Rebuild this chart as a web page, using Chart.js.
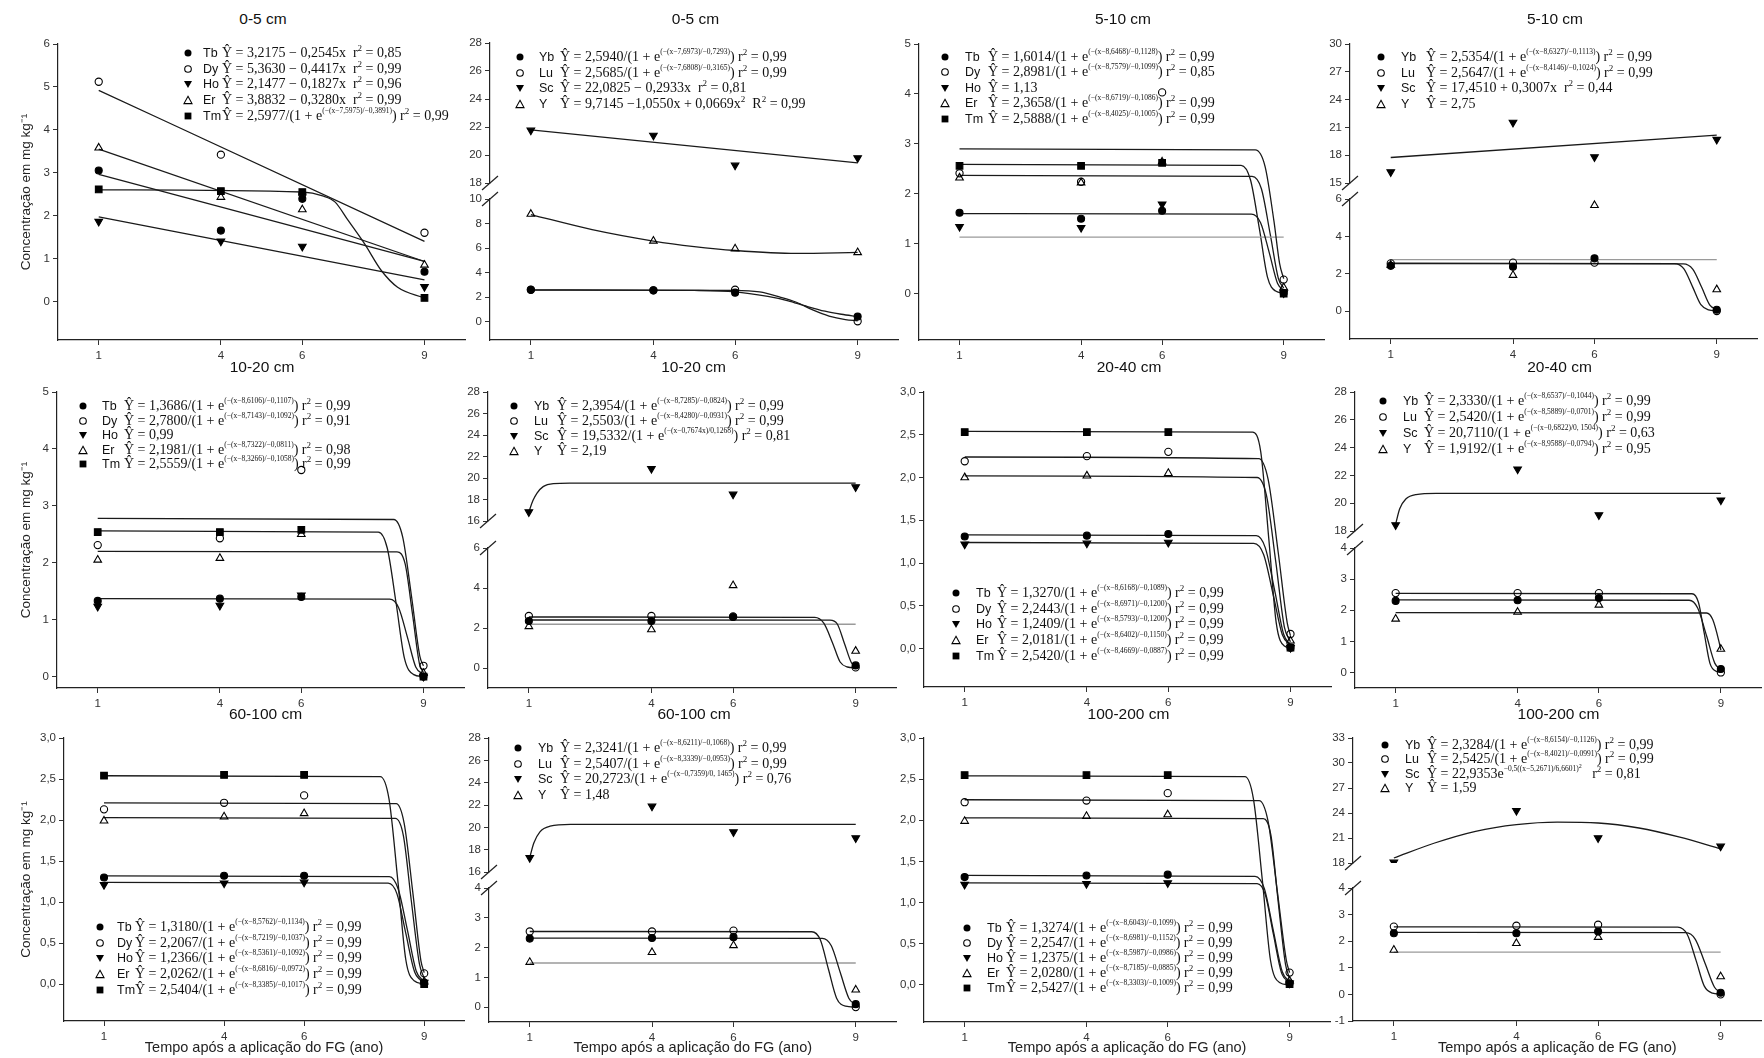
<!DOCTYPE html>
<html lang="pt">
<head>
<meta charset="utf-8">
<title>Concentração de ETR após aplicação de FG</title>
<script src="https://cdn.jsdelivr.net/npm/chart.js@4.4.1/dist/chart.umd.min.js"></script>
<style>
  html, body { margin: 0; padding: 0; background: #fff; }
  #fig { position: relative; width: 1764px; height: 1058px; overflow: hidden; font-family: "Liberation Sans", Arial, sans-serif; color: #111; }
  #fig canvas { position: absolute; }
  .titulo { position: absolute; font-size: 15.5px; transform: translate(-50%, -50%); white-space: nowrap; color: #111; }
  .leg { position: absolute; white-space: nowrap; height: 16px; line-height: 16px; }
  .leg svg { position: absolute; left: 0; top: 3px; }
  .leg .el { position: absolute; top: 0; font-size: 12.5px; }
  .leg .eq { position: absolute; top: 0; font-family: "Liberation Serif", "Times New Roman", serif; font-size: 14px; }
  .leg .eq sup { font-size: 9px; line-height: 0; vertical-align: 0; position: relative; top: -6px; }
  .leg .eq sup.ex { font-size: 7.5px; top: -7px; }
  .leg .eq sup.ex sup { font-size: 6px; top: -3px; }
</style>
</head>
<body>
<div id="fig"></div>
<script>
// anos de coleta, eixo x comum
var anos = [1, 4, 6, 9];

// ---- 0-5 cm (Tb Dy Ho Er Tm)
var p1Tb = [3.05, 1.65, 2.39, 0.69];
var p1Dy = [5.12, 3.42, 2.50, 1.60];
var p1Ho = [1.86, 1.40, 1.28, 0.34];
var p1Er = [3.58, 2.43, 2.14, 0.85];
var p1Tm = [2.61, 2.57, 2.55, 0.08];
var p1TbFit = [[1, 2.96], [9, 0.93]];
var p1DyFit = [[1, 4.92], [9, 1.40]];
var p1HoFit = [[1, 1.97], [9, 0.50]];
var p1ErFit = [[1, 3.55], [9, 0.93]];
var p1TmFit = [[1, 2.60], [6, 2.55], [6.5, 2.46], [6.8, 2.32], [7.13, 1.88], [7.53, 1.34], [7.94, 0.72], [8.34, 0.33], [9, 0.08]];

// ---- 0-5 cm (Yb Lu Sc Y)
var p2Yb = [2.60, 2.55, 2.36, 0.41];
var p2Lu = [2.60, 2.55, 2.60, 0.03];
var p2Sc = [21.76, 21.40, 19.26, 19.79];
var p2Y = [8.77, 6.58, 5.95, 5.64];
var p2YbFit = [[1, 2.59], [5, 2.54], [6, 2.43], [6.8, 2.05], [7.3, 1.70], [7.7, 1.30], [8.2, 0.85], [8.6, 0.60], [9, 0.41]];
var p2LuFit = [[1, 2.57], [6, 2.55], [6.6, 2.42], [7.1, 2.00], [7.5, 1.58], [7.9, 0.95], [8.3, 0.45], [8.7, 0.17], [9, 0.07]];
var p2ScFit = [[1, 21.79], [9, 19.44]];
var p2YFit = [[1, 8.73], [2.5, 7.50], [4, 6.57], [5, 6.12], [6, 5.80], [7.5, 5.56], [9, 5.64]];

// ---- 5-10 cm (Tb Dy Ho Er Tm)
var p3Tb = [1.62, 1.50, 1.66, 0.01];
var p3Dy = [2.41, 2.24, 4.03, 0.28];
var p3Ho = [1.34, 1.32, 1.79, 0.01];
var p3Er = [2.32, 2.22, 2.64, 0.12];
var p3Tm = [2.56, 2.56, 2.62, 0.00];
var p3TbFit = [[1, 1.60], [8.2, 1.59], [8.43, 1.42], [8.65, 0.80], [8.85, 0.20], [9, 0.07]];
var p3DyFit = [[1, 2.90], [8.3, 2.88], [8.54, 2.55], [8.76, 1.45], [8.9, 0.60], [9, 0.30]];
var p3HoFit = [[1, 1.13], [9, 1.13]];
var p3ErFit = [[1, 2.37], [8.22, 2.35], [8.45, 2.10], [8.67, 1.18], [8.87, 0.30], [9, 0.11]];
var p3TmFit = [[1, 2.59], [7.95, 2.57], [8.18, 2.28], [8.4, 1.30], [8.6, 0.33], [8.8, 0.05], [9, 0.01]];

// ---- 5-10 cm (Yb Lu Sc Y)
var p4Yb = [2.42, 2.37, 2.82, 0.07];
var p4Lu = [2.55, 2.59, 2.59, 0.00];
var p4Sc = [16.19, 21.53, 17.81, 19.69];
var p4Y = [2.46, 1.92, 5.66, 1.15];
var p4YbFit = [[1, 2.54], [8.18, 2.52], [8.41, 2.24], [8.63, 1.27], [8.83, 0.32], [9, 0.09]];
var p4LuFit = [[1, 2.56], [7.96, 2.54], [8.19, 2.27], [8.41, 1.28], [8.61, 0.34], [8.8, 0.06], [9, 0.01]];
var p4ScFit = [[1, 17.75], [9, 20.16]];
var p4YFit = [[1, 2.75], [9, 2.75]];

// ---- 10-20 cm (Tb Dy Ho Er Tm)
var p5Tb = [1.33, 1.37, 1.40, 0.00];
var p5Dy = [2.31, 2.43, 3.63, 0.19];
var p5Ho = [1.23, 1.25, 1.43, 0.00];
var p5Er = [2.05, 2.08, 2.50, 0.06];
var p5Tm = [2.54, 2.54, 2.58, 0.00];
var p5TbFit = [[1, 1.37], [8.17, 1.36], [8.39, 1.21], [8.61, 0.68], [8.81, 0.17], [9, 0.04]];
var p5DyFit = [[1, 2.78], [8.27, 2.76], [8.49, 2.45], [8.71, 1.39], [8.91, 0.36], [9, 0.19]];
var p5ErFit = [[1, 2.20], [8.35, 2.19], [8.55, 1.98], [8.73, 1.10], [8.9, 0.23], [9, 0.07]];
var p5TmFit = [[1, 2.56], [7.89, 2.54], [8.11, 2.26], [8.33, 1.28], [8.53, 0.33], [8.75, 0.04], [9, 0.00]];

// ---- 10-20 cm (Yb Lu Sc Y)
var p6Yb = [2.35, 2.35, 2.55, 0.13];
var p6Lu = [2.60, 2.60, 2.58, 0.03];
var p6Sc = [16.84, 20.87, 18.48, 19.16];
var p6Y = [2.08, 1.92, 4.13, 0.85];
var p6YbFit = [[1, 2.40], [8.37, 2.39], [8.55, 2.20], [8.73, 1.20], [8.9, 0.25], [9, 0.09]];
var p6LuFit = [[1, 2.55], [8.0, 2.53], [8.22, 2.24], [8.43, 1.28], [8.62, 0.30], [8.8, 0.05], [9, 0.01]];
var p6ScFit = [[1, 16.84], [1.1, 17.9], [1.2, 18.6], [1.35, 19.2], [1.6, 19.48], [2, 19.53], [9, 19.53]];
var p6YFit = [[1, 2.19], [9, 2.19]];

// ---- 20-40 cm (Tb Dy Ho Er Tm)
var p7Tb = [1.31, 1.32, 1.34, 0.01];
var p7Dy = [2.19, 2.25, 2.30, 0.17];
var p7Ho = [1.22, 1.23, 1.24, 0.01];
var p7Er = [2.00, 2.02, 2.05, 0.09];
var p7Tm = [2.53, 2.53, 2.53, 0.01];
var p7TbFit = [[1, 1.33], [8.16, 1.32], [8.38, 1.18], [8.62, 0.66], [8.83, 0.17], [9, 0.04]];
var p7DyFit = [[1, 2.24], [8.22, 2.22], [8.45, 1.98], [8.7, 1.12], [8.92, 0.30], [9, 0.15]];
var p7HoFit = [[1, 1.24], [8.1, 1.23], [8.34, 1.10], [8.58, 0.62], [8.8, 0.16], [9, 0.04]];
var p7ErFit = [[1, 2.02], [8.18, 2.00], [8.41, 1.79], [8.64, 1.01], [8.85, 0.25], [9, 0.08]];
var p7TmFit = [[1, 2.54], [8.07, 2.53], [8.27, 2.30], [8.47, 1.27], [8.65, 0.30], [8.85, 0.03], [9, 0.01]];

// ---- 20-40 cm (Yb Lu Sc Y)
var p8Yb = [2.30, 2.32, 2.39, 0.11];
var p8Lu = [2.55, 2.55, 2.55, 0.00];
var p8Sc = [18.43, 22.45, 19.15, 20.22];
var p8Y = [1.72, 1.94, 2.17, 0.75];
var p8YbFit = [[1, 2.33], [8.22, 2.32], [8.43, 2.07], [8.65, 1.17], [8.85, 0.30], [9, 0.08]];
var p8LuFit = [[1, 2.54], [8.29, 2.53], [8.45, 2.25], [8.59, 1.27], [8.73, 0.30], [8.9, 0.03], [9, 0.01]];
var p8ScFit = [[1, 18.5], [1.1, 19.6], [1.25, 20.3], [1.5, 20.62], [2, 20.7], [9, 20.71]];
var p8YFit = [[1, 1.92], [8.65, 1.91], [8.8, 1.70], [8.96, 0.96], [9, 0.72]];

// ---- 60-100 cm (Tb Dy Ho Er Tm)
var p9Tb = [1.30, 1.32, 1.32, 0.02];
var p9Dy = [2.13, 2.21, 2.30, 0.13];
var p9Ho = [1.21, 1.23, 1.24, 0.02];
var p9Er = [1.99, 2.04, 2.08, 0.03];
var p9Tm = [2.54, 2.55, 2.55, 0.00];
var p9TbFit = [[1, 1.32], [8.13, 1.31], [8.35, 1.16], [8.58, 0.66], [8.8, 0.16], [9, 0.03]];
var p9DyFit = [[1, 2.21], [8.3, 2.20], [8.5, 1.96], [8.72, 1.10], [8.92, 0.28], [9, 0.14]];
var p9HoFit = [[1, 1.24], [8.1, 1.23], [8.32, 1.10], [8.54, 0.62], [8.76, 0.15], [9, 0.02]];
var p9ErFit = [[1, 2.03], [8.28, 2.02], [8.48, 1.81], [8.68, 1.01], [8.88, 0.25], [9, 0.07]];
var p9TmFit = [[1, 2.54], [7.9, 2.53], [8.12, 2.26], [8.34, 1.27], [8.54, 0.30], [8.75, 0.04], [9, 0.00]];

// ---- 60-100 cm (Yb Lu Sc Y)
var p10Yb = [2.30, 2.32, 2.35, 0.10];
var p10Lu = [2.54, 2.54, 2.57, 0.00];
var p10Sc = [17.28, 21.88, 19.58, 19.04];
var p10Y = [1.51, 1.84, 2.07, 0.58];
var p10YbFit = [[1, 2.32], [8.18, 2.31], [8.4, 2.06], [8.62, 1.16], [8.83, 0.30], [9, 0.07]];
var p10LuFit = [[1, 2.54], [7.92, 2.53], [8.13, 2.26], [8.33, 1.27], [8.53, 0.30], [8.75, 0.03], [9, 0.00]];
var p10ScFit = [[1, 17.3], [1.1, 18.6], [1.25, 19.6], [1.5, 20.1], [2, 20.26], [9, 20.27]];
var p10YFit = [[1, 1.48], [9, 1.48]];

// ---- 100-200 cm (Tb Dy Ho Er Tm)
var p11Tb = [1.31, 1.33, 1.34, 0.02];
var p11Dy = [2.22, 2.24, 2.33, 0.15];
var p11Ho = [1.22, 1.23, 1.24, 0.02];
var p11Er = [1.99, 2.05, 2.07, 0.05];
var p11Tm = [2.55, 2.55, 2.55, 0.01];
var p11TbFit = [[1, 1.33], [8.15, 1.32], [8.38, 1.17], [8.6, 0.66], [8.82, 0.16], [9, 0.04]];
var p11DyFit = [[1, 2.25], [8.25, 2.24], [8.47, 1.99], [8.7, 1.13], [8.92, 0.30], [9, 0.15]];
var p11HoFit = [[1, 1.24], [8.2, 1.23], [8.4, 1.10], [8.6, 0.62], [8.8, 0.15], [9, 0.03]];
var p11ErFit = [[1, 2.03], [8.35, 2.02], [8.54, 1.82], [8.72, 1.01], [8.9, 0.25], [9, 0.08]];
var p11TmFit = [[1, 2.54], [7.9, 2.53], [8.11, 2.26], [8.33, 1.27], [8.53, 0.30], [8.75, 0.03], [9, 0.00]];

// ---- 100-200 cm (Yb Lu Sc Y)
var p12Yb = [2.30, 2.30, 2.36, 0.06];
var p12Lu = [2.55, 2.58, 2.62, 0.00];
var p12Sc = [18.08, 24.28, 21.00, 20.00];
var p12Y = [1.67, 1.92, 2.15, 0.67];
var p12YbFit = [[1, 2.33], [8.15, 2.32], [8.38, 2.07], [8.62, 1.16], [8.85, 0.27], [9, 0.08]];
var p12LuFit = [[1, 2.54], [7.95, 2.53], [8.18, 2.26], [8.4, 1.27], [8.6, 0.31], [8.8, 0.05], [9, 0.01]];
var p12ScFit = [[1, 18.6], [2, 20.4], [3, 21.8], [4, 22.6], [5, 22.9], [6, 22.8], [7, 22.2], [8, 21.1], [9, 19.7]];
var p12YFit = [[1, 1.59], [9, 1.59]];

// marcas dos eixos y
var ticks0a6 = [0, 1, 2, 3, 4, 5, 6];
var ticks0a5 = [0, 1, 2, 3, 4, 5];
var ticks0a3 = [0, 0.5, 1, 1.5, 2, 2.5, 3];
var ticks18a28 = [18, 20, 22, 24, 26, 28];
var ticks16a28 = [16, 18, 20, 22, 24, 26, 28];
var ticks15a30 = [15, 18, 21, 24, 27, 30];
var ticks18a33 = [18, 21, 24, 27, 30, 33];
var ticks0a10 = [0, 2, 4, 6, 8, 10];
var ticks0a6par = [0, 2, 4, 6];
var ticks0a4 = [0, 1, 2, 3, 4];
var ticksM1a4 = [-1, 0, 1, 2, 3, 4];

// texto das equações (legendas)
function sig(a, c, b, r) {
  return 'Ŷ = ' + a + '/(1 + e<sup class="ex">(−(x−' + c + ')/' + b + ')</sup>) r<sup>2</sup> = ' + r;
}
function comR(txt, r) { return txt + '&nbsp; r<sup>2</sup> = ' + r; }

var eqP1 = [comR('Ŷ = 3,2175 − 0,2545x', '0,85'), comR('Ŷ = 5,3630 − 0,4417x', '0,99'), comR('Ŷ = 2,1477 − 0,1827x', '0,96'), comR('Ŷ = 3,8832 − 0,3280x', '0,99'), sig('2,5977', '7,5975', '−0,3891', '0,99')];
var eqP2 = [sig('2,5940', '7,6973', '−0,7293', '0,99'), sig('2,5685', '7,6808', '−0,3165', '0,99'), comR('Ŷ = 22,0825 − 0,2933x', '0,81'), 'Ŷ = 9,7145 −1,0550x + 0,0669x<sup>2</sup>&nbsp; R<sup>2</sup> = 0,99'];
var eqP3 = [sig('1,6014', '8,6468', '−0,1128', '0,99'), sig('2,8981', '8,7579', '−0,1099', '0,85'), 'Ŷ = 1,13', sig('2,3658', '8,6719', '−0,1086', '0,99'), sig('2,5888', '8,4025', '−0,1005', '0,99')];
var eqP4 = [sig('2,5354', '8,6327', '−0,1113', '0,99'), sig('2,5647', '8,4146', '−0,1024', '0,99'), comR('Ŷ = 17,4510 + 0,3007x', '0,44'), 'Ŷ = 2,75'];
var eqP5 = [sig('1,3686', '8,6106', '−0,1107', '0,99'), sig('2,7800', '8,7143', '−0,1092', '0,91'), 'Ŷ = 0,99', sig('2,1981', '8,7322', '−0,0811', '0,98'), sig('2,5559', '8,3266', '−0,1058', '0,99')];
var eqP6 = [sig('2,3954', '8,7285', '−0,0824', '0,99'), sig('2,5503', '8,4280', '−0,0931', '0,99'), sig('19,5332', '0,7674x', '0,1268', '0,81'), 'Ŷ = 2,19'];
var eqP7 = [sig('1,3270', '8,6168', '−0,1089', '0,99'), sig('2,2443', '8,6971', '−0,1200', '0,99'), sig('1,2409', '8,5793', '−0,1200', '0,99'), sig('2,0181', '8,6402', '−0,1150', '0,99'), sig('2,5420', '8,4669', '−0,0887', '0,99')];
var eqP8 = [sig('2,3330', '8,6537', '−0,1044', '0,99'), sig('2,5420', '8,5889', '−0,0701', '0,99'), sig('20,7110', '0,6822', '0, 1504', '0,63'), sig('1,9192', '8,9588', '−0,0794', '0,95')];
var eqP9 = [sig('1,3180', '8,5762', '−0,1134', '0,99'), sig('2,2067', '8,7219', '−0,1037', '0,99'), sig('1,2366', '8,5361', '−0,1092', '0,99'), sig('2,0262', '8,6816', '−0,0972', '0,99'), sig('2,5404', '8,3385', '−0,1017', '0,99')];
var eqP10 = [sig('2,3241', '8,6211', '−0,1068', '0,99'), sig('2,5407', '8,3339', '−0,0953', '0,99'), sig('20,2723', '0,7359', '0, 1465', '0,76'), 'Ŷ = 1,48'];
var eqP11 = [sig('1,3274', '8,6043', '−0,1099', '0,99'), sig('2,2547', '8,6981', '−0,1152', '0,99'), sig('1,2375', '8,5987', '−0,0986', '0,99'), sig('2,0280', '8,7185', '−0,0885', '0,99'), sig('2,5427', '8,3303', '−0,1009', '0,99')];
var eqP12 = [sig('2,3284', '8,6154', '−0,1126', '0,99'), sig('2,5425', '8,4021', '−0,0991', '0,99'), 'Ŷ = 22,9353e<sup class="ex">−0,5((x−5,2671)/6,6601)<sup>2</sup></sup>&nbsp;&nbsp; r<sup>2</sup> = 0,81', 'Ŷ = 1,59'];

var rotuloY = 'Concentração em mg kg⁻¹';
var rotuloX = 'Tempo após a aplicação do FG (ano)';
var rotuloX12 = 'Tempo após a aplicação de FG (ano)';

var simbolos = {
  Tb: { forma: 'circle', cheio: true, r: 3.5 },
  Yb: { forma: 'circle', cheio: true, r: 3.5 },
  Dy: { forma: 'circle', cheio: false, r: 3.6 },
  Lu: { forma: 'circle', cheio: false, r: 3.6 },
  Ho: { forma: 'triangle', cheio: true, rot: 180, r: 4.4 },
  Sc: { forma: 'triangle', cheio: true, rot: 180, r: 4.4 },
  Er: { forma: 'triangle', cheio: false, r: 4.4 },
  Y: { forma: 'triangle', cheio: false, r: 4.4 },
  Tm: { forma: 'rect', cheio: true, r: 4.7 }
};

function S(el, v, fit, extra) {
  var s = { el: el, v: v, fit: fit };
  if (extra) { for (var k in extra) s[k] = extra[k]; }
  return s;
}

var paineis = [
  { titulo: '0-5 cm', linha: 0, area: [58, 44, 468, 340], y: { min: -0.9, max: 6, ticks: ticks0a6 }, tituloY: true,
    series: [S('Tb', p1Tb, p1TbFit), S('Dy', p1Dy, p1DyFit), S('Ho', p1Ho, p1HoFit), S('Er', p1Er, p1ErFit), S('Tm', p1Tm, p1TmFit)],
    leg: { x: 188, y: 53, dy: 15.7, dn: 15, de: 34, eq: eqP1 } },
  { titulo: '0-5 cm', linha: 0, area: [490, 43, 901],
    quebra: { topo: { min: 18, max: 28, ticks: ticks18a28, h: 140 }, vao: 16, base: { min: -1.5, max: 10, ticks: ticks0a10, h: 141 } },
    series: [S('Yb', p2Yb, p2YbFit), S('Lu', p2Lu, p2LuFit), S('Sc', p2Sc, p2ScFit, { topo: true }), S('Y', p2Y, p2YFit)],
    leg: { x: 520, y: 57, dy: 15.7, dn: 19, de: 40, eq: eqP2 } },
  { titulo: '5-10 cm', linha: 0, area: [919, 44, 1327, 340], y: { min: -0.93, max: 5, ticks: ticks0a5 },
    series: [S('Tb', p3Tb, p3TbFit), S('Dy', p3Dy, p3DyFit), S('Ho', p3Ho, p3HoFit, { cinza: true }), S('Er', p3Er, p3ErFit), S('Tm', p3Tm, p3TmFit)],
    leg: { x: 945, y: 57, dy: 15.4, dn: 20, de: 43, eq: eqP3 } },
  { titulo: '5-10 cm', linha: 0, area: [1350, 44, 1760],
    quebra: { topo: { min: 15, max: 30, ticks: ticks15a30, h: 139 }, vao: 16, base: { min: -1.5, max: 6, ticks: ticks0a6par, h: 140 } },
    series: [S('Yb', p4Yb, p4YbFit), S('Lu', p4Lu, p4LuFit), S('Sc', p4Sc, p4ScFit, { topo: true }), S('Y', p4Y, p4YFit, { cinza: true })],
    leg: { x: 1381, y: 57, dy: 15.7, dn: 20, de: 45, eq: eqP4 } },

  { titulo: '10-20 cm', linha: 1, area: [57, 392, 467, 688], y: { min: -0.2, max: 5, ticks: ticks0a5 }, tituloY: true,
    series: [S('Tb', p5Tb, p5TbFit), S('Dy', p5Dy, p5DyFit), S('Ho', p5Ho, null), S('Er', p5Er, p5ErFit), S('Tm', p5Tm, p5TmFit)],
    leg: { x: 83, y: 406, dy: 14.6, dn: 19, de: 41, eq: eqP5 } },
  { titulo: '10-20 cm', linha: 1, area: [488, 392, 899],
    quebra: { topo: { min: 16, max: 28, ticks: ticks16a28, h: 129 }, vao: 27, base: { min: -1, max: 6, ticks: ticks0a6par, h: 140 } },
    series: [S('Yb', p6Yb, p6YbFit), S('Lu', p6Lu, p6LuFit), S('Sc', p6Sc, p6ScFit, { topo: true }), S('Y', p6Y, p6YFit, { cinza: true })],
    leg: { x: 514, y: 406, dy: 15, dn: 20, de: 43, eq: eqP6 } },
  { titulo: '20-40 cm', linha: 1, area: [924, 392, 1334, 687], y: { min: -0.45, max: 3, ticks: ticks0a3, dec: true },
    series: [S('Tb', p7Tb, p7TbFit), S('Dy', p7Dy, p7DyFit), S('Ho', p7Ho, p7HoFit), S('Er', p7Er, p7ErFit), S('Tm', p7Tm, p7TmFit)],
    leg: { x: 956, y: 593, dy: 15.7, dn: 20, de: 41, eq: eqP7 } },
  { titulo: '20-40 cm', linha: 1, area: [1355, 392, 1764],
    quebra: { topo: { min: 18, max: 28, ticks: ticks18a28, h: 139 }, vao: 17, base: { min: -0.5, max: 4, ticks: ticks0a4, h: 140 } },
    series: [S('Yb', p8Yb, p8YbFit), S('Lu', p8Lu, p8LuFit), S('Sc', p8Sc, p8ScFit, { topo: true }), S('Y', p8Y, p8YFit)],
    leg: { x: 1383, y: 401, dy: 16, dn: 20, de: 41, eq: eqP8 } },

  { titulo: '60-100 cm', linha: 2, area: [64, 738, 467, 1021], y: { min: -0.45, max: 3, ticks: ticks0a3, dec: true }, tituloY: true, tituloX: rotuloX,
    series: [S('Tb', p9Tb, p9TbFit), S('Dy', p9Dy, p9DyFit), S('Ho', p9Ho, p9HoFit), S('Er', p9Er, p9ErFit), S('Tm', p9Tm, p9TmFit)],
    leg: { x: 100, y: 927, dy: 15.7, dn: 17, de: 35, eq: eqP9 } },
  { titulo: '60-100 cm', linha: 2, area: [489, 738, 899], tituloX: rotuloX,
    quebra: { topo: { min: 16, max: 28, ticks: ticks16a28, h: 134 }, vao: 16, base: { min: -0.5, max: 4, ticks: ticks0a4, h: 134 } },
    series: [S('Yb', p10Yb, p10YbFit), S('Lu', p10Lu, p10LuFit), S('Sc', p10Sc, p10ScFit, { topo: true }), S('Y', p10Y, p10YFit, { cinza: true })],
    leg: { x: 518, y: 748, dy: 15.7, dn: 20, de: 42, eq: eqP10 } },
  { titulo: '100-200 cm', linha: 2, area: [924, 738, 1333, 1022], y: { min: -0.45, max: 3, ticks: ticks0a3, dec: true }, tituloX: rotuloX,
    series: [S('Tb', p11Tb, p11TbFit), S('Dy', p11Dy, p11DyFit), S('Ho', p11Ho, p11HoFit), S('Er', p11Er, p11ErFit), S('Tm', p11Tm, p11TmFit)],
    leg: { x: 967, y: 928, dy: 15, dn: 20, de: 39, eq: eqP11 } },
  { titulo: '100-200 cm', linha: 2, area: [1353, 738, 1764], tituloX: rotuloX12,
    quebra: { topo: { min: 18, max: 33, ticks: ticks18a33, h: 125 }, vao: 25, base: { min: -1, max: 4, ticks: ticksM1a4, h: 133 } },
    series: [S('Yb', p12Yb, p12YbFit), S('Lu', p12Lu, p12LuFit), S('Sc', p12Sc, p12ScFit, { topo: true }), S('Y', p12Y, p12YFit, { cinza: true })],
    leg: { x: 1385, y: 745, dy: 14.3, dn: 20, de: 42, eq: eqP12 } }
];

var alturaTitulo = [19, 367, 714];

Chart.defaults.font.family = '"Liberation Sans", Arial, sans-serif';
Chart.defaults.font.size = 11.5;
Chart.defaults.color = '#333';

// barras "//" no corte do eixo y
var quebraEixo = {
  id: 'quebraEixo',
  afterDraw: function (chart) {
    var topo = chart.scales.yTop, base = chart.scales.yBot;
    if (!topo) return;
    var ctx = chart.ctx, x = chart.chartArea.left;
    ctx.save();
    ctx.strokeStyle = '#222';
    ctx.lineWidth = 1.2;
    [topo.bottom, base.top].forEach(function (y) {
      ctx.beginPath();
      ctx.moveTo(x - 8, y + 7);
      ctx.lineTo(x + 8, y - 7);
      ctx.stroke();
    });
    ctx.restore();
  }
};

function eixoY(faixa, largura, dec, extra) {
  var cfg = {
    type: 'linear', position: 'left', min: faixa.min, max: faixa.max,
    afterBuildTicks: function (s) { s.ticks = faixa.ticks.map(function (v) { return { value: v }; }); },
    afterFit: function (s) { s.width = largura; },
    ticks: {
      padding: 3, autoSkip: false, color: '#333',
      callback: function (v) { return dec ? v.toFixed(1).replace('.', ',') : String(v); }
    },
    grid: { drawOnChartArea: false, drawTicks: true, tickLength: 5, color: '#333' },
    border: { display: true, color: '#222', width: 1.2 }
  };
  if (extra) { for (var k in extra) cfg[k] = extra[k]; }
  return cfg;
}

function marcadorSvg(el) {
  var s = simbolos[el], f;
  if (s.forma === 'circle') {
    f = s.cheio ? '<circle cx="5" cy="5" r="3.5" fill="#000"/>' : '<circle cx="5" cy="5" r="3.3" fill="none" stroke="#000" stroke-width="1.1"/>';
  } else if (s.forma === 'rect') {
    f = '<rect x="1.6" y="1.6" width="6.8" height="6.8" fill="#000"/>';
  } else if (s.rot) {
    f = '<polygon points="1,2 9,2 5,9" fill="#000"/>';
  } else {
    f = '<polygon points="5,1.3 9,8.6 1,8.6" fill="none" stroke="#000" stroke-width="1.1"/>';
  }
  return '<svg width="10" height="10" viewBox="0 0 10 10">' + f + '</svg>';
}

var fig = document.getElementById('fig');

paineis.forEach(function (p) {
  var L = p.area[0], T = p.area[1], R = p.area[2];
  var B = p.quebra ? T + p.quebra.topo.h + p.quebra.vao + p.quebra.base.h : p.area[3];
  var AW = p.tituloY ? L : 45;
  var PT = 10, PR = 3;
  var XH = p.tituloX ? 1058 - B : 30;

  var cv = document.createElement('canvas');
  cv.width = AW + (R - L) + PR;
  cv.height = PT + (B - T) + XH;
  cv.style.left = (L - AW) + 'px';
  cv.style.top = (T - PT) + 'px';
  fig.appendChild(cv);

  var escalas = {
    x: {
      type: 'linear', position: 'bottom', min: 0, max: 10,
      afterBuildTicks: function (s) { s.ticks = anos.map(function (v) { return { value: v }; }); },
      afterFit: function (s) { s.height = XH; },
      ticks: { padding: 4, autoSkip: false, maxRotation: 0, color: '#333' },
      grid: { drawOnChartArea: false, tickLength: 5, color: '#333' },
      border: { color: '#222', width: 1.2 },
      title: { display: !!p.tituloX, text: p.tituloX || '', color: '#222', font: { size: 14.5 }, padding: { top: 0, bottom: 1.3 } }
    }
  };
  if (p.quebra) {
    escalas.yBot = eixoY(p.quebra.base, AW, false, { stack: 'p', stackWeight: p.quebra.base.h });
    escalas.yGap = {
      type: 'linear', position: 'left', stack: 'p', stackWeight: p.quebra.vao, min: 0, max: 1,
      afterFit: function (s) { s.width = AW; },
      ticks: { display: false }, grid: { display: false }, border: { display: false }
    };
    escalas.yTop = eixoY(p.quebra.topo, AW, false, { stack: 'p', stackWeight: p.quebra.topo.h });
  } else {
    escalas.yBot = eixoY(p.y, AW, p.y.dec, {
      title: { display: !!p.tituloY, text: rotuloY, color: '#222', font: { size: 13.5 }, padding: { top: 18, bottom: 0 } }
    });
  }

  var conjuntos = [];
  p.series.forEach(function (s) {
    var sim = simbolos[s.el];
    var eixo = s.topo ? 'yTop' : 'yBot';
    conjuntos.push({
      label: s.el,
      data: anos.map(function (x, i) { return { x: x, y: s.v[i] }; }),
      yAxisID: eixo, showLine: false, order: 0,
      pointStyle: sim.forma, pointRotation: sim.rot || 0, pointRadius: sim.r,
      pointBackgroundColor: sim.cheio ? '#000' : 'rgba(0,0,0,0)',
      pointBorderColor: '#000', pointBorderWidth: 1.1
    });
    if (s.fit) {
      conjuntos.push({
        label: s.el + ' ajuste',
        data: s.fit.map(function (q) { return { x: q[0], y: q[1] }; }),
        yAxisID: eixo, showLine: true, pointRadius: 0, order: 1,
        borderColor: s.cinza ? '#9a9a9a' : '#1a1a1a', borderWidth: s.cinza ? 1.4 : 1.3,
        cubicInterpolationMode: 'monotone', fill: false
      });
    }
  });

  new Chart(cv, {
    type: 'scatter',
    data: { datasets: conjuntos },
    options: {
      responsive: false, animation: false, devicePixelRatio: 1, events: [],
      layout: { padding: { left: 0, top: PT, right: PR, bottom: 0 } },
      plugins: { legend: { display: false }, tooltip: { enabled: false } },
      scales: escalas
    },
    plugins: [quebraEixo]
  });

  var t = document.createElement('div');
  t.className = 'titulo';
  t.textContent = p.titulo;
  t.style.left = ((L + R) / 2) + 'px';
  t.style.top = alturaTitulo[p.linha] + 'px';
  fig.appendChild(t);

  p.series.forEach(function (s, i) {
    var row = document.createElement('div');
    row.className = 'leg';
    row.style.left = (p.leg.x - 5) + 'px';
    row.style.top = (p.leg.y + i * p.leg.dy - 8) + 'px';
    row.innerHTML = marcadorSvg(s.el) +
      '<span class="el" style="left:' + (5 + p.leg.dn) + 'px">' + s.el + '</span>' +
      '<span class="eq" style="left:' + (5 + p.leg.de) + 'px">' + p.leg.eq[i] + '</span>';
    fig.appendChild(row);
  });
});
</script>
</body>
</html>
